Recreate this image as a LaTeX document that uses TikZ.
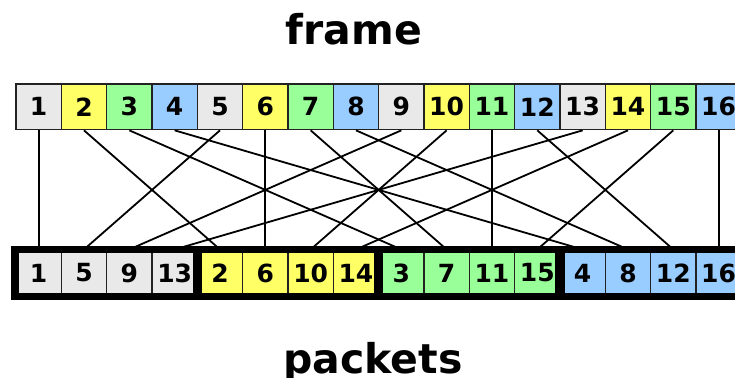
\documentclass[tikz,border=0pt]{standalone}
\usepackage{fontspec}
\setmainfont{DejaVu Sans}
\definecolor{cgrey}{HTML}{E9E9E9}
\definecolor{cyellow}{HTML}{FFFF66}
\definecolor{cgreen}{HTML}{99FF99}
\definecolor{cblue}{HTML}{99CCFF}
\definecolor{cedge}{HTML}{222222}
\begin{document}
\begin{tikzpicture}[x=1pt,y=-1pt,
  cell/.style={draw=cedge, line width=1.6pt, minimum width=45.33pt, minimum height=45.5pt,
    inner sep=0pt, font=\fontsize{25}{30}\selectfont\bfseries},
  wire/.style={draw=black, line width=1.8pt},
  packetbox/.style={draw=black, line width=7.6pt},
  title/.style={font=\fontsize{41}{48}\selectfont\bfseries, anchor=base, inner sep=0pt}]
\useasboundingbox (0,0) rectangle (735,377);
\def\colname#1{\ifcase#1 cgrey\or cyellow\or cgreen\or cblue\fi}
% top row
\foreach \i in {1,...,16}{
  \pgfmathtruncatemacro{\c}{mod(\i-1,4)}
  \pgfmathsetmacro{\cx}{16+45.33*(\i-1)+22.665}
  \node[cell, fill=\colname{\c}] (t\i) at (\cx,106.8) {\i};
}
% bottom row
\foreach \p in {0,...,15}{
  \pgfmathtruncatemacro{\g}{div(\p,4)}
  \pgfmathtruncatemacro{\k}{mod(\p,4)}
  \pgfmathtruncatemacro{\v}{4*\k+\g+1}
  \pgfmathsetmacro{\cx}{16+45.33*\p+22.665}
  \node[cell, fill=\colname{\g}] (b\v) at (\cx,273) {\v};
}
% connectors
\foreach \i in {1,...,16}{
  \draw[wire] (t\i.south) -- (b\i.north);
}
% packet boxes
\foreach \g in {1,...,4}{
  \pgfmathtruncatemacro{\last}{12+\g}
  \draw[packetbox] (b\g.north west) rectangle (b\last.south east);
}
\node[title] (frame) at (354,45) {frame};
\node[title] (packets) at (373,373) {packets};
\end{tikzpicture}
\end{document}
